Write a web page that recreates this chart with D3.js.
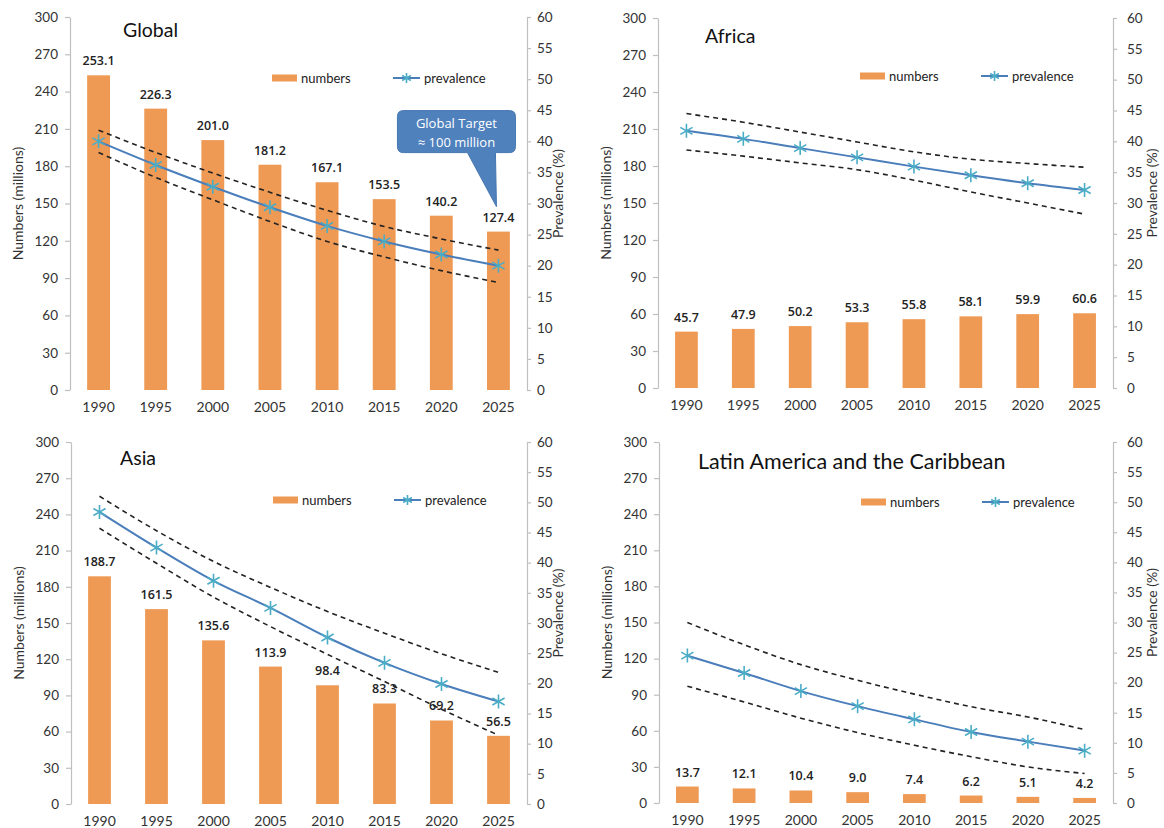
<!DOCTYPE html>
<html>
<head>
<meta charset="utf-8">
<script src="https://cdn.jsdelivr.net/npm/d3@7"></script>
<style>
  html, body { margin: 0; padding: 0; background: #fff; }
  svg { display: block; }
  .tick text { font-family: Lato, "Liberation Sans", sans-serif; font-size: 13.5px; fill: #333; }
</style>
</head>
<body>
<svg id="chart" width="1164" height="828"></svg>
<script>
// ---------- data ----------
const years = ["1990", "1995", "2000", "2005", "2010", "2015", "2020", "2025"];
const numberTicks = [0, 30, 60, 90, 120, 150, 180, 210, 240, 270, 300];
const prevalenceTicks = [0, 5, 10, 15, 20, 25, 30, 35, 40, 45, 50, 55, 60];

const globalNumbers = [253.1, 226.3, 201.0, 181.2, 167.1, 153.5, 140.2, 127.4];
const globalPrev    = [40.0, 36.2, 32.7, 29.4, 26.4, 23.9, 21.8, 20.0];
const globalUpper   = [41.8, 38.2, 34.9, 31.8, 28.9, 26.3, 24.3, 22.5];
const globalLower   = [38.2, 34.2, 30.6, 27.1, 23.9, 21.4, 19.2, 17.3];

const africaNumbers = [45.7, 47.9, 50.2, 53.3, 55.8, 58.1, 59.9, 60.6];
const africaPrev    = [41.7, 40.4, 38.9, 37.4, 35.9, 34.5, 33.2, 32.1];
const africaUpper   = [44.5, 43.1, 41.5, 39.9, 38.3, 37.1, 36.4, 35.8];
const africaLower   = [38.6, 37.6, 36.5, 35.4, 33.7, 31.8, 30.0, 28.2];

const asiaNumbers = [188.7, 161.5, 135.6, 113.9, 98.4, 83.3, 69.2, 56.5];
const asiaPrev    = [48.4, 42.5, 37.0, 32.5, 27.6, 23.4, 19.9, 17.0];
const asiaUpper   = [51.0, 45.3, 40.2, 35.9, 31.9, 28.3, 24.9, 21.8];
const asiaLower   = [45.7, 39.9, 34.3, 29.4, 24.8, 20.3, 15.7, 11.4];

const latamNumbers = [13.7, 12.1, 10.4, 9.0, 7.4, 6.2, 5.1, 4.2];
const latamPrev    = [24.5, 21.6, 18.6, 16.1, 13.9, 11.8, 10.2, 8.7];
const latamUpper   = [30.0, 26.3, 23.0, 20.4, 18.1, 16.0, 14.3, 12.2];
const latamLower   = [19.4, 16.8, 14.1, 11.7, 9.6, 7.7, 6.0, 4.9];

const panelTitles = ["Global", "Africa", "Asia", "Latin America and the Caribbean"];
const legendLabels = ["numbers", "prevalence"];
const leftAxisTitle = "Numbers (millions)";
const rightAxisTitle = "Prevalence (%)";
const calloutLines = ["Global Target", "\u2248 100 million"];

// ---------- style ----------
const BAR = "#ee9a55", LINE = "#4a7ebb", MARK = "#4bacc6", AXIS = "#bfbfbf";

const svg = d3.select("#chart");

function star(g, cx, cy, r) {
  const p = d3.path();
  p.moveTo(cx, cy - r); p.lineTo(cx, cy + r);
  const dx = r * 0.87, dy = r * 0.5;
  p.moveTo(cx - dx, cy - dy); p.lineTo(cx + dx, cy + dy);
  p.moveTo(cx - dx, cy + dy); p.lineTo(cx + dx, cy - dy);
  g.append("path").attr("d", p.toString()).attr("stroke", MARK)
    .attr("stroke-width", 1.6).attr("fill", "none");
}

function panel(cfg) {
  const g = svg.append("g");
  const x = d3.scaleBand().domain(years).range([cfg.left, cfg.right])
    .paddingInner(0.6).paddingOuter(0.3);
  const yL = d3.scaleLinear().domain([0, 300]).range([cfg.bottom, cfg.top]);
  const yR = d3.scaleLinear().domain([0, 60]).range([cfg.bottom, cfg.top]);
  const cx = d => x(d) + x.bandwidth() / 2;

  // axes
  const ax = g.append("g").attr("transform", `translate(${cfg.left},0)`)
    .call(d3.axisLeft(yL).tickValues(numberTicks).tickSize(5).tickSizeOuter(0).tickPadding(7));
  const axR = g.append("g").attr("transform", `translate(${cfg.right},0)`)
    .call(d3.axisRight(yR).tickValues(prevalenceTicks).tickSize(4).tickSizeOuter(0).tickPadding(cfg.rpad));
  const axB = g.append("g").attr("transform", `translate(0,${cfg.bottom})`)
    .call(d3.axisBottom(x).tickSize(0).tickPadding(12));
  axB.select(".domain").remove();
  [ax, axR].forEach(a => {
    a.select(".domain").attr("stroke", AXIS).attr("stroke-width", 1.2);
    a.selectAll(".tick line").attr("stroke", AXIS).attr("stroke-width", 1.2);
  });
  axB.selectAll(".tick text").style("font-size", "14px");

  // bars
  g.selectAll("rect.bar").data(cfg.numbers).join("rect").attr("class", "bar")
    .attr("x", (d, i) => x(years[i])).attr("width", x.bandwidth())
    .attr("y", d => yL(d)).attr("height", d => yL(0) - yL(d)).attr("fill", BAR);

  // value labels
  g.selectAll("text.val").data(cfg.numbers).join("text").attr("class", "val")
    .attr("x", (d, i) => cx(years[i])).attr("y", d => yL(d) - 10)
    .attr("text-anchor", "middle")
    .style("font-family", "'Open Sans', sans-serif").style("font-size", "12.5px")
    .style("font-weight", 600).style("fill", "#222")
    .text(d => d.toFixed(1));

  // lines
  const line = d3.line().x((d, i) => cx(years[i])).y(d => yR(d)).curve(d3.curveMonotoneX);
  [cfg.upper, cfg.lower].forEach(arr => {
    g.append("path").attr("d", line(arr)).attr("fill", "none")
      .attr("stroke", "#222").attr("stroke-width", 1.6).attr("stroke-dasharray", "5,4");
  });
  g.append("path").attr("d", line(cfg.prev)).attr("fill", "none")
    .attr("stroke", LINE).attr("stroke-width", 2);
  cfg.prev.forEach((d, i) => star(g, cx(years[i]), yR(d), 7));

  // titles
  g.append("text").attr("x", cfg.left + cfg.tx).attr("y", cfg.top + cfg.ty)
    .style("font-family", "Lato, 'Open Sans', sans-serif").style("font-size", cfg.tfs + "px")
    .style("fill", "#111").text(cfg.title);

  g.append("text")
    .attr("transform", `translate(${cfg.left - 47},${(cfg.top + cfg.bottom) / 2}) rotate(-90)`)
    .attr("text-anchor", "middle")
    .style("font-family", "Lato, sans-serif").style("font-size", "14px").style("fill", "#333")
    .text(leftAxisTitle);
  g.append("text")
    .attr("transform", `translate(${cfg.right + cfg.rt},${(cfg.top + cfg.bottom) / 2 - 10}) rotate(-90)`)
    .attr("text-anchor", "middle")
    .style("font-family", "Lato, sans-serif").style("font-size", "14px").style("fill", "#333")
    .text(rightAxisTitle);

  // legend
  const ly = cfg.top + cfg.ly;
  const lx = cfg.left + 202;
  g.append("rect").attr("x", lx).attr("y", ly - 3.5).attr("width", 25).attr("height", 7).attr("fill", BAR);
  g.append("text").attr("x", lx + 29).attr("y", ly + 4.5)
    .style("font-family", "Lato, sans-serif").style("font-size", "13px").style("fill", "#222")
    .text(legendLabels[0]);
  g.append("line").attr("x1", lx + 121).attr("x2", lx + 148).attr("y1", ly).attr("y2", ly)
    .attr("stroke", LINE).attr("stroke-width", 2);
  star(g, lx + 134.5, ly, 5);
  g.append("text").attr("x", lx + 152).attr("y", ly + 4.5)
    .style("font-family", "Lato, sans-serif").style("font-size", "13px").style("fill", "#222")
    .text(legendLabels[1]);

  return { g, x, yL, cx };
}

const P = [
  { left: 70, right: 527, top: 17, bottom: 390, numbers: globalNumbers, prev: globalPrev, upper: globalUpper, lower: globalLower, title: panelTitles[0], tx: 53, ty: 20, tfs: 19.5, ly: 61, rpad: 6, rt: 36 },
  { left: 658, right: 1113, top: 18, bottom: 388, numbers: africaNumbers, prev: africaPrev, upper: africaUpper, lower: africaLower, title: panelTitles[1], tx: 47, ty: 25, tfs: 19.5, ly: 58, rpad: 10, rt: 44 },
  { left: 71, right: 527, top: 442, bottom: 804, numbers: asiaNumbers, prev: asiaPrev, upper: asiaUpper, lower: asiaLower, title: panelTitles[2], tx: 49, ty: 23, tfs: 19.5, ly: 58, rpad: 6, rt: 36 },
  { left: 659, right: 1113, top: 442, bottom: 803, numbers: latamNumbers, prev: latamPrev, upper: latamUpper, lower: latamLower, title: panelTitles[3], tx: 39, ty: 27, tfs: 21.5, ly: 60, rpad: 10, rt: 44 }
];
const panels = P.map(panel);

// callout on Global panel
(function () {
  const p = panels[0];
  const last = years[years.length - 1];
  const tipX = p.cx(last) - 2;
  const tipY = p.yL(globalNumbers[globalNumbers.length - 1]) - 25;
  const bx0 = tipX - 99, bx1 = tipX + 19, by0 = tipY - 96, by1 = tipY - 54, r = 6;
  const path = d3.path();
  path.moveTo(bx0 + r, by0);
  path.lineTo(bx1 - r, by0); path.quadraticCurveTo(bx1, by0, bx1, by0 + r);
  path.lineTo(bx1, by1 - r); path.quadraticCurveTo(bx1, by1, bx1 - r, by1);
  path.lineTo(tipX - 1, by1); path.lineTo(tipX, tipY); path.lineTo(tipX - 29, by1);
  path.lineTo(bx0 + r, by1); path.quadraticCurveTo(bx0, by1, bx0, by1 - r);
  path.lineTo(bx0, by0 + r); path.quadraticCurveTo(bx0, by0, bx0 + r, by0);
  path.closePath();
  p.g.append("path").attr("d", path.toString()).attr("fill", "#4f81bd").attr("stroke", "#4676b0");
  calloutLines.forEach((t, i) => {
    p.g.append("text").attr("x", (bx0 + bx1) / 2).attr("y", by0 + 17 + i * 19)
      .attr("text-anchor", "middle")
      .style("font-family", "'Open Sans', sans-serif").style("font-size", "13px").style("fill", "#fff")
      .text(t);
  });
})();
</script>
</body>
</html>
